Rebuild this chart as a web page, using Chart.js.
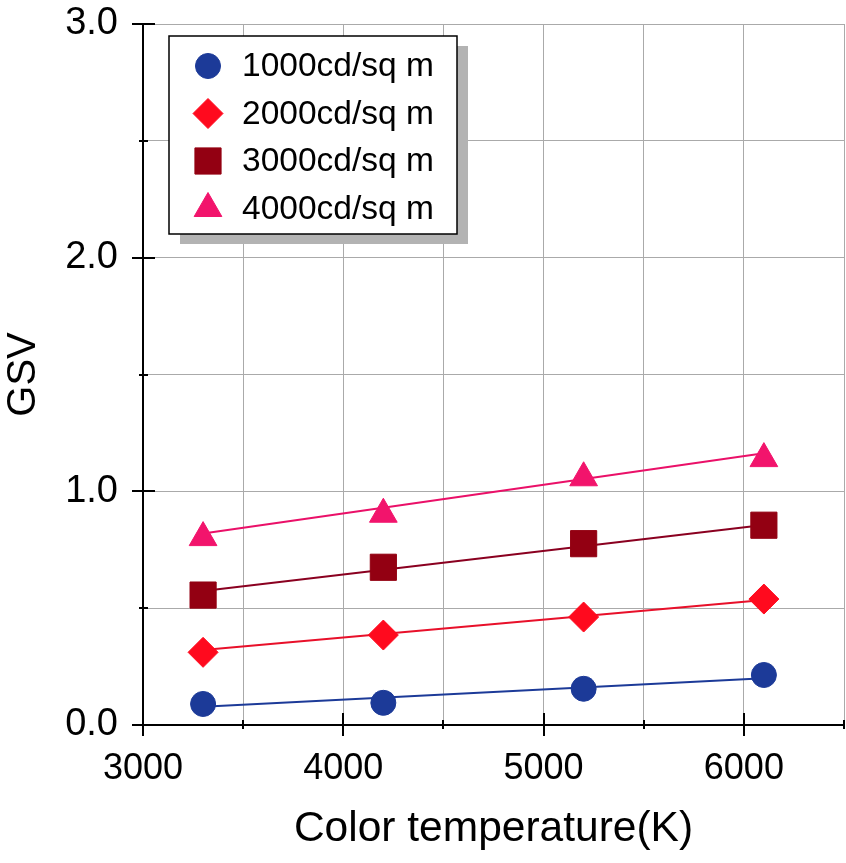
<!DOCTYPE html>
<html>
<head>
<meta charset="utf-8">
<title>GSV vs Color temperature</title>
<script src="https://cdn.jsdelivr.net/npm/chart.js@4.4.1/dist/chart.umd.min.js"></script>
<style>
  html, body { margin: 0; padding: 0; background: #fff; }
  #wrap { width: 846px; height: 863px; }
</style>
</head>
<body>
<div id="wrap"><canvas id="gsvChart" width="846" height="863"></canvas></div>
<script>
const colorTemps = [3300, 4200, 5200, 6100];
const seriesLabels = ['1000cd/sq m', '2000cd/sq m', '3000cd/sq m', '4000cd/sq m'];
const gsv1000 = [0.090, 0.095, 0.155, 0.214];
const gsv2000 = [0.311, 0.385, 0.462, 0.539];
const gsv3000 = [0.556, 0.675, 0.776, 0.855];
const gsv4000 = [0.802, 0.902, 1.058, 1.140];
// fitted lines at 3300 K and 6100 K
const fitX = [3300, 6100];
const fitStart = [0.078, 0.321, 0.573, 0.820];
const fitEnd = [0.200, 0.535, 0.856, 1.163];
const xTickLabels = [3000, 4000, 5000, 6000];
const yTickLabels = [0, 1, 2, 3];

const FONT = '"Liberation Sans", Arial, sans-serif';
const markerColors = ['#1c3a98', '#ff0a1e', '#930012', '#f2146c'];
const lineColors = ['#1c3a98', '#e8102a', '#8a0020', '#ea1068'];
const markerStyles = ['circle', 'rectRot', 'rect', 'triangle'];
const markerRadius = [12.5, 15, 18.5, 16];
const allSeries = [gsv1000, gsv2000, gsv3000, gsv4000];

const datasets = [];
allSeries.forEach((vals, i) => {
  datasets.push({
    label: seriesLabels[i],
    data: colorTemps.map((x, j) => ({ x: x, y: vals[j] })),
    backgroundColor: markerColors[i],
    borderColor: markerColors[i],
    borderWidth: 1,
    pointStyle: markerStyles[i],
    pointRadius: markerRadius[i],
    showLine: false,
    order: 1
  });
});
allSeries.forEach((vals, i) => {
  datasets.push({
    label: 'fit ' + seriesLabels[i],
    isFit: true,
    data: [{ x: fitX[0], y: fitStart[i] }, { x: fitX[1], y: fitEnd[i] }],
    borderColor: lineColors[i],
    borderWidth: 2,
    pointRadius: 0,
    showLine: true,
    order: 2
  });
});

// black tick marks crossing the two axes
const axisTicks = {
  id: 'axisTicks',
  afterDraw(chart) {
    const { ctx, chartArea, scales } = chart;
    ctx.save();
    ctx.strokeStyle = '#000';
    ctx.lineWidth = 2;
    scales.x.ticks.forEach(t => {
      const px = Math.round(scales.x.getPixelForValue(t.value));
      const major = xTickLabels.includes(t.value);
      ctx.beginPath();
      ctx.moveTo(px, chartArea.bottom - (major ? 12 : 5));
      ctx.lineTo(px, chartArea.bottom + (major ? 11 : 4));
      ctx.stroke();
    });
    scales.y.ticks.forEach(t => {
      const py = Math.round(scales.y.getPixelForValue(t.value));
      const major = yTickLabels.includes(t.value);
      ctx.beginPath();
      ctx.moveTo(chartArea.left - (major ? 11 : 4), py);
      ctx.lineTo(chartArea.left + (major ? 12 : 5), py);
      ctx.stroke();
    });
    ctx.restore();
  }
};

// legend box with drop shadow inside the plot
const boxLegend = {
  id: 'boxLegend',
  afterDatasetsDraw(chart) {
    const ctx = chart.ctx;
    const left = 169, top = 36, w = 288, h = 198;
    ctx.save();
    ctx.fillStyle = '#b3b3b3';
    ctx.fillRect(left + 11, top + 10, w, h);
    ctx.fillStyle = '#fff';
    ctx.fillRect(left, top, w, h);
    ctx.strokeStyle = '#000';
    ctx.lineWidth = 1.5;
    ctx.strokeRect(left, top, w, h);
    chart.data.datasets.filter(d => !d.isFit).forEach((ds, i) => {
      const y = 66 + i * 47.5;
      ctx.fillStyle = ds.backgroundColor;
      ctx.strokeStyle = ds.borderColor;
      ctx.lineWidth = 1;
      Chart.helpers.drawPoint(ctx, { pointStyle: ds.pointStyle, radius: ds.pointRadius, rotation: 0, borderWidth: 1 }, 208, y);
      ctx.fillStyle = '#000';
      ctx.font = '33.5px ' + FONT;
      ctx.textBaseline = 'middle';
      ctx.textAlign = 'left';
      ctx.fillText(ds.label, 242, y + 1);
    });
    ctx.restore();
  }
};

function noPad(scale) {
  scale.paddingLeft = 0;
  scale.paddingRight = 0;
  scale.paddingTop = 0;
  scale.paddingBottom = 0;
}

const ctx = document.getElementById('gsvChart').getContext('2d');
const gsvChart = new Chart(ctx, {
  type: 'scatter',
  data: { datasets: datasets },
  options: {
    responsive: false,
    animation: false,
    events: [],
    layout: { autoPadding: false, padding: { top: 24, right: 2, left: 0, bottom: 0 } },
    plugins: {
      legend: { display: false },
      tooltip: { enabled: false }
    },
    scales: {
      x: {
        type: 'linear',
        min: 3000,
        max: 6500,
        afterFit: function (scale) { scale.height = 138; noPad(scale); },
        grid: { color: '#aaaaaa', lineWidth: 1, drawTicks: false },
        border: { color: '#000', width: 2 },
        ticks: {
          stepSize: 500,
          autoSkip: false,
          maxRotation: 0,
          padding: 22,
          color: '#000',
          font: { family: FONT, size: 36 },
          callback: function (value) { return xTickLabels.includes(value) ? String(value) : ''; }
        },
        title: {
          display: true,
          text: 'Color temperature(K)',
          color: '#000',
          font: { family: FONT, size: 42.5 },
          padding: { top: 0, bottom: 8 }
        }
      },
      y: {
        type: 'linear',
        min: 0,
        max: 3,
        afterFit: function (scale) { scale.width = 143; noPad(scale); },
        grid: { color: '#aaaaaa', lineWidth: 1, drawTicks: false },
        border: { color: '#000', width: 2 },
        ticks: {
          stepSize: 0.5,
          padding: 25,
          color: '#000',
          font: { family: FONT, size: 38 },
          callback: function (value) { return yTickLabels.includes(value) ? value.toFixed(1) : ''; }
        },
        title: {
          display: true,
          text: 'GSV',
          color: '#000',
          font: { family: FONT, size: 40 },
          padding: { top: 0, bottom: 0 }
        }
      }
    }
  },
  plugins: [axisTicks, boxLegend]
});
</script>
</body>
</html>
